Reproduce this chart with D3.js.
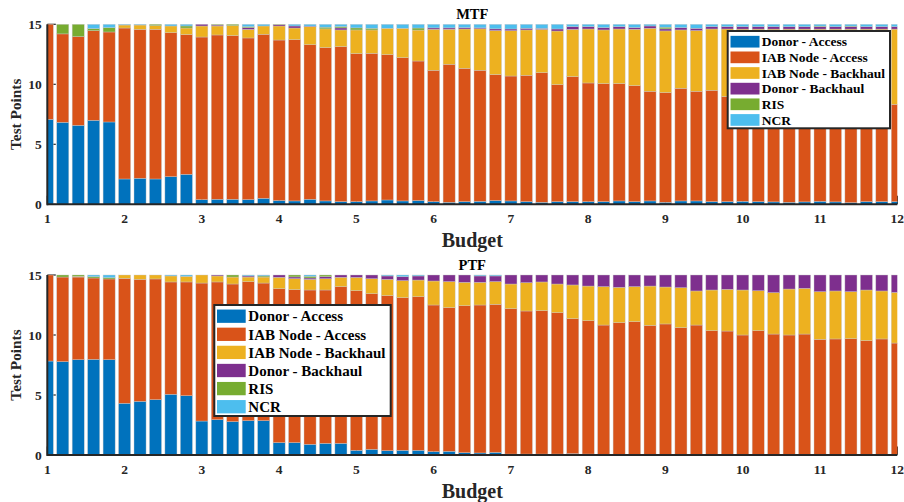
<!DOCTYPE html>
<html>
<head>
<meta charset="utf-8">
<script src="https://cdn.jsdelivr.net/npm/d3@7"></script>
<style>
  body { margin: 0; background: #fff; }
  svg text { font-family: "Liberation Serif", "Times New Roman", serif; font-weight: bold; }
</style>
</head>
<body>
<svg id="chart" width="904" height="502"></svg>
<script>
// Budget values on the x axis (one stacked bar each)
const budgets = [1.0, 1.2, 1.4, 1.6, 1.8, 2.0, 2.2, 2.4, 2.6, 2.8,
                 3.0, 3.2, 3.4, 3.6, 3.8, 4.0, 4.2, 4.4, 4.6, 4.8,
                 5.0, 5.2, 5.4, 5.6, 5.8, 6.0, 6.2, 6.4, 6.6, 6.8,
                 7.0, 7.2, 7.4, 7.6, 7.8, 8.0, 8.2, 8.4, 8.6, 8.8,
                 9.0, 9.2, 9.4, 9.6, 9.8, 10.0, 10.2, 10.4, 10.6, 10.8,
                 11.0, 11.2, 11.4, 11.6, 11.8, 12.0];

const seriesNames = ["Donor - Access", "IAB Node - Access", "IAB Node - Backhaul",
                     "Donor - Backhaul", "RIS", "NCR"];
const seriesColors = ["#0072BD", "#D95319", "#EDB120", "#7E2F8E", "#77AC30", "#4DBEEE"];

const xTicks = [1, 2, 3, 4, 5, 6, 7, 8, 9, 10, 11, 12];
const yTicks = [0, 5, 10, 15];

// ---- MTF: test points served by each node type ----
const mtfDonorAccess = [7.08, 6.83, 6.58, 7.0, 6.86, 2.11, 2.17, 2.11, 2.3, 2.5,
  0.39, 0.42, 0.42, 0.39, 0.5, 0.31, 0.28, 0.42, 0.28, 0.22,
  0.22, 0.28, 0.36, 0.28, 0.31, 0.22, 0.17, 0.22, 0.25, 0.31,
  0.28, 0.22, 0.17, 0.22, 0.22, 0.22, 0.22, 0.28, 0.22, 0.28,
  0.17, 0.28, 0.28, 0.22, 0.22, 0.25, 0.22, 0.2, 0.17, 0.2,
  0.25, 0.2, 0.14, 0.22, 0.22, 0.22];
const mtfIabAccess = [7.92, 7.37, 7.39, 7.47, 7.5, 12.58, 12.41, 12.47, 12.0, 11.64,
  13.55, 13.69, 13.64, 13.47, 13.67, 13.38, 13.44, 12.88, 12.78, 12.92,
  12.34, 12.3, 12.11, 11.94, 11.63, 10.95, 11.5, 11.11, 10.92, 10.5,
  10.41, 10.53, 10.8, 9.75, 10.42, 9.89, 9.84, 9.78, 9.67, 9.14,
  9.14, 9.39, 9.14, 9.28, 8.75, 8.75, 8.58, 8.8, 8.53, 8.7,
  8.35, 8.5, 8.36, 8.38, 8.18, 8.11];
const mtfIabBackhaul = [0, 0, 0, 0, 0, 0.25, 0.36, 0.31, 0.56, 0.55,
  0.92, 0.75, 0.83, 0.72, 0.69, 1.17, 0.97, 1.5, 1.56, 1.39,
  1.97, 1.95, 2.2, 2.45, 2.58, 3.42, 2.92, 3.28, 3.45, 3.67,
  3.78, 3.78, 3.61, 4.47, 3.94, 4.5, 4.47, 4.55, 4.7, 5.25,
  5.14, 4.86, 5.06, 5.11, 5.64, 5.6, 5.8, 5.6, 5.9, 5.7,
  6.0, 5.9, 6.1, 6.0, 6.2, 6.27];
const mtfDonorBackhaul = [0, 0, 0, 0, 0, 0, 0, 0, 0, 0,
  0.14, 0.08, 0, 0.14, 0, 0.11, 0.17, 0.05, 0, 0.17,
  0, 0, 0, 0, 0, 0.11, 0.11, 0.11, 0.08, 0.14,
  0.14, 0.14, 0.08, 0.17, 0.22, 0.19, 0.19, 0.19, 0.14, 0.19,
  0.17, 0.19, 0.19, 0.19, 0.19, 0.2, 0.2, 0.2, 0.2, 0.2,
  0.2, 0.2, 0.2, 0.2, 0.2, 0.2];
const mtfRis = [0, 0.8, 1.03, 0.17, 0.36, 0, 0, 0.11, 0, 0.17,
  0, 0.06, 0.11, 0.08, 0, 0.03, 0, 0, 0.14, 0.11,
  0.17, 0.14, 0, 0, 0.17, 0, 0, 0, 0, 0,
  0, 0, 0, 0, 0, 0, 0, 0, 0, 0,
  0.14, 0, 0, 0, 0, 0, 0, 0, 0, 0,
  0.05, 0, 0.05, 0, 0, 0];
const mtfNcr = [0, 0, 0, 0.36, 0.28, 0.06, 0.06, 0, 0.14, 0.14,
  0, 0, 0, 0.2, 0.14, 0, 0.14, 0.15, 0.24, 0.19,
  0.3, 0.33, 0.33, 0.33, 0.31, 0.3, 0.3, 0.28, 0.3, 0.38,
  0.39, 0.33, 0.34, 0.39, 0.2, 0.2, 0.28, 0.2, 0.27, 0.14,
  0.24, 0.28, 0.33, 0.2, 0.2, 0.2, 0.2, 0.2, 0.2, 0.2,
  0.15, 0.2, 0.15, 0.2, 0.2, 0.2];

// ---- PTF: test points served by each node type ----
const ptfDonorAccess = [7.83, 7.78, 7.94, 7.97, 7.94, 4.31, 4.47, 4.61, 5.06, 4.94,
  2.83, 2.94, 2.78, 2.86, 2.86, 1.03, 1.03, 0.89, 0.97, 0.97,
  0.39, 0.47, 0.36, 0.39, 0.39, 0.28, 0.31, 0.19, 0.17, 0.22,
  0.08, 0.08, 0.08, 0.08, 0.11, 0.08, 0.05, 0.05, 0.05, 0.05,
  0.05, 0.05, 0.05, 0.05, 0.05, 0.05, 0.05, 0.05, 0.05, 0.05,
  0.05, 0.05, 0.05, 0.05, 0.05, 0.05];
const ptfIabAccess = [7.17, 7.05, 6.89, 6.78, 6.73, 10.41, 10.17, 10.06, 9.36, 9.48,
  11.5, 11.48, 11.47, 11.58, 11.47, 12.83, 12.75, 12.86, 12.78, 13.06,
  13.3, 12.97, 12.92, 12.72, 12.8, 12.22, 11.97, 12.25, 12.33, 12.34,
  12.11, 11.92, 11.95, 11.78, 11.25, 11.11, 10.78, 10.98, 11.06, 10.75,
  10.87, 10.56, 10.78, 10.31, 10.28, 9.95, 10.31, 10.03, 9.95, 10.03,
  9.59, 9.62, 9.64, 9.48, 9.62, 9.28];
const ptfIabBackhaul = [0, 0, 0.06, 0, 0, 0.28, 0.36, 0.33, 0.5, 0.47,
  0.67, 0.5, 0.58, 0.39, 0.5, 0.95, 0.92, 0.89, 0.94, 0.78,
  1.11, 1.25, 1.36, 1.42, 1.39, 2.0, 2.17, 1.95, 1.89, 1.89,
  2.06, 2.36, 2.39, 2.39, 2.81, 2.89, 3.2, 2.94, 2.92, 3.28,
  3.08, 3.33, 2.84, 3.39, 3.48, 3.75, 3.33, 3.45, 3.83, 3.81,
  3.97, 4.0, 3.92, 4.22, 4.0, 4.22];
const ptfDonorBackhaul = [0, 0, 0, 0, 0, 0, 0, 0, 0, 0,
  0, 0.08, 0, 0.09, 0, 0.19, 0.14, 0.11, 0.17, 0.19,
  0.2, 0.31, 0.28, 0.33, 0.34, 0.5, 0.55, 0.61, 0.53, 0.47,
  0.75, 0.64, 0.58, 0.75, 0.83, 0.92, 0.97, 1.03, 0.97, 0.89,
  1.0, 1.06, 1.33, 1.25, 1.19, 1.25, 1.31, 1.47, 1.17, 1.11,
  1.39, 1.33, 1.39, 1.25, 1.33, 1.45];
const ptfRis = [0, 0.17, 0.11, 0.11, 0.11, 0, 0, 0, 0, 0,
  0, 0, 0.17, 0, 0.09, 0, 0.16, 0.14, 0.14, 0,
  0, 0, 0, 0, 0, 0, 0, 0, 0, 0,
  0, 0, 0, 0, 0, 0, 0, 0, 0, 0,
  0, 0, 0, 0, 0, 0, 0, 0, 0, 0,
  0, 0, 0, 0, 0, 0];
const ptfNcr = [0, 0, 0, 0.14, 0.22, 0, 0, 0, 0.08, 0.11,
  0, 0, 0, 0.08, 0.08, 0, 0, 0.11, 0, 0,
  0, 0, 0.08, 0.14, 0.08, 0, 0, 0, 0.08, 0.08,
  0, 0, 0, 0, 0, 0, 0, 0, 0, 0,
  0, 0, 0, 0, 0, 0, 0, 0, 0, 0,
  0, 0, 0, 0, 0, 0];

const panels = [
  {
    id: "mtf", title: "MTF", top: 24.3, bottom: 204.3,
    series: [mtfDonorAccess, mtfIabAccess, mtfIabBackhaul, mtfDonorBackhaul, mtfRis, mtfNcr],
    legend: { x: 727.7, y: 31, w: 162.3, h: 97.3, font: 13.5, row0: 41.7, pitch: 15.65,
              swX: 730.5, swW: 29, swH: 11.7, textX: 761.7 }
  },
  {
    id: "ptf", title: "PTF", top: 275, bottom: 455,
    series: [ptfDonorAccess, ptfIabAccess, ptfIabBackhaul, ptfDonorBackhaul, ptfRis, ptfNcr],
    legend: { x: 214.3, y: 305, w: 176.4, h: 111, font: 15, row0: 316.2, pitch: 18.1,
              swX: 217, swW: 28.7, swH: 13.3, textX: 248.3 }
  }
];

const svg = d3.select("#chart");
const left = 47.3, right = 897.3;
const axisColor = "#262626";
const tickLen = 8.5;

const x = d3.scaleLinear().domain([1, 12]).range([left, right]);
const step = x(1.2) - x(1.0);
const barW = step * 0.78;

panels.forEach(p => {
  const y = d3.scaleLinear().domain([0, 15]).range([p.bottom, p.top]);
  const g = svg.append("g").attr("class", "panel-" + p.id);

  // clip region for the plot box
  svg.append("clipPath").attr("id", "clip-" + p.id)
    .append("rect").attr("x", left).attr("y", p.top - 1)
    .attr("width", right - left).attr("height", p.bottom - p.top + 1);

  // inward tick marks sit below the bars
  g.append("g").selectAll("line").data(xTicks).join("line")
    .attr("x1", d => x(d)).attr("x2", d => x(d))
    .attr("y1", p.bottom).attr("y2", p.bottom - tickLen)
    .attr("stroke", axisColor).attr("stroke-width", 1.2);
  g.append("g").selectAll("line").data(yTicks).join("line")
    .attr("x1", left).attr("x2", left + tickLen)
    .attr("y1", d => y(d)).attr("y2", d => y(d))
    .attr("stroke", axisColor).attr("stroke-width", 1.2);

  // stacked bars
  const rows = budgets.map((b, i) => {
    const r = { budget: b };
    seriesNames.forEach((n, k) => { r[n] = p.series[k][i]; });
    return r;
  });
  const stacked = d3.stack().keys(seriesNames)(rows);

  const bars = g.append("g").attr("clip-path", "url(#clip-" + p.id + ")");
  stacked.forEach((layer, k) => {
    bars.append("g").attr("fill", seriesColors[k])
      .selectAll("rect").data(layer.filter(d => d[1] - d[0] > 0)).join("rect")
      .attr("x", d => x(d.data.budget) - barW / 2)
      .attr("width", barW)
      .attr("y", d => y(d[1]))
      .attr("height", d => y(d[0]) - y(d[1]))
      .attr("stroke", "#c8c8c8").attr("stroke-width", 0.5).attr("stroke-opacity", 0.8);
  });

  // axis lines
  g.append("line").attr("x1", left).attr("x2", right)
    .attr("y1", p.bottom).attr("y2", p.bottom)
    .attr("stroke", axisColor).attr("stroke-width", 2);
  g.append("line").attr("x1", left).attr("x2", left)
    .attr("y1", p.top).attr("y2", p.bottom + 1)
    .attr("stroke", axisColor).attr("stroke-width", 2);

  // tick labels
  g.append("g").selectAll("text").data(xTicks).join("text")
    .attr("x", d => x(d)).attr("y", p.bottom + 19)
    .attr("text-anchor", "middle").attr("font-size", 13.5).attr("fill", axisColor)
    .text(d => d);
  g.append("g").selectAll("text").data(yTicks).join("text")
    .attr("x", 41.7).attr("y", d => y(d)).attr("dy", "0.35em")
    .attr("text-anchor", "end").attr("font-size", 13.5).attr("fill", axisColor)
    .text(d => d);

  // title and axis labels
  g.append("text").attr("x", (left + right) / 2).attr("y", p.top - 5.3)
    .attr("text-anchor", "middle").attr("font-size", 14.5).attr("fill", "#000")
    .text(p.title);
  g.append("text").attr("x", (left + right) / 2).attr("y", p.bottom + 42.6)
    .attr("text-anchor", "middle").attr("font-size", 20).attr("fill", axisColor)
    .text("Budget");
  g.append("text")
    .attr("transform", `translate(20.8,${(p.top + p.bottom) / 2}) rotate(-90)`)
    .attr("text-anchor", "middle").attr("font-size", 15.3).attr("fill", axisColor)
    .text("Test Points");

  // legend
  const L = p.legend;
  const lg = g.append("g");
  lg.append("rect").attr("x", L.x).attr("y", L.y).attr("width", L.w).attr("height", L.h)
    .attr("fill", "#fff").attr("stroke", axisColor).attr("stroke-width", 2);
  seriesNames.forEach((n, k) => {
    const cy = L.row0 + k * L.pitch;
    lg.append("rect").attr("x", L.swX).attr("y", cy - L.swH / 2)
      .attr("width", L.swW).attr("height", L.swH).attr("fill", seriesColors[k]);
    lg.append("text").attr("x", L.textX).attr("y", cy).attr("dy", "0.35em")
      .attr("font-size", L.font).attr("fill", "#000").text(n);
  });
});
</script>
</body>
</html>
